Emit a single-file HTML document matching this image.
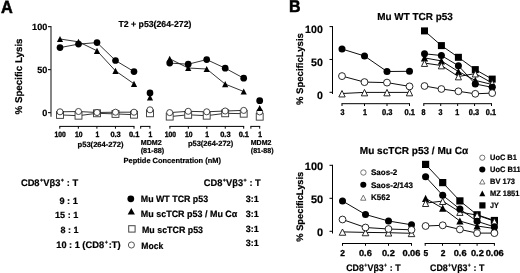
<!DOCTYPE html>
<html lang="en"><head><meta charset="utf-8"><title>Figure</title>
<style>
html,body{margin:0;padding:0;background:#fff;}
body{width:520px;height:273px;overflow:hidden;}
svg{display:block;font-family:"Liberation Sans", Arial, Helvetica, sans-serif;will-change:transform;filter:blur(0.3px);}
text{stroke:#000;stroke-width:0.2px;}
</style></head><body>
<svg width="520" height="273" viewBox="0 0 520 273" shape-rendering="geometricPrecision" text-rendering="geometricPrecision">
<rect width="520" height="273" fill="#fff"/>
<text transform="translate(0.9 12.7) scale(1.02 1.1)" font-size="16" font-weight="bold" style="stroke-width:0.5px">A</text>
<line x1="51.0" y1="25.999999999999993" x2="51.0" y2="116.8" stroke="#666" stroke-width="1.6"/>
<line x1="48.0" y1="26.599999999999994" x2="51.0" y2="26.599999999999994" stroke="#222" stroke-width="1.2"/>
<text x="47.3" y="29.94" font-size="9.1" text-anchor="end" font-weight="bold" fill="#000">100</text>
<line x1="48.0" y1="69.6" x2="51.0" y2="69.6" stroke="#222" stroke-width="1.2"/>
<text x="47.3" y="72.94" font-size="9.1" text-anchor="end" font-weight="bold" fill="#000">50</text>
<line x1="48.0" y1="112.6" x2="51.0" y2="112.6" stroke="#222" stroke-width="1.2"/>
<text x="47.3" y="115.94" font-size="9.1" text-anchor="end" font-weight="bold" fill="#000">0</text>
<text x="18.3" y="79.88" font-size="9.8" text-anchor="middle" textLength="76" lengthAdjust="spacingAndGlyphs" transform="rotate(-90 18.3 76.5)" font-weight="bold" fill="#000">% Specific Lysis</text>
<text x="118.5" y="27.10" font-size="8.7" textLength="72.9" lengthAdjust="spacingAndGlyphs" font-weight="bold" fill="#000">T2 + p53(264-272)</text>
<line x1="59.3" y1="126.4" x2="134.5" y2="126.4" stroke="#000" stroke-width="1"/>
<line x1="59.8" y1="126.4" x2="59.8" y2="128.70000000000002" stroke="#000" stroke-width="1"/>
<text transform="translate(60.199999999999996 136.66) scale(0.88 1)" font-size="7.7" text-anchor="middle" style="stroke-width:0.35px" font-weight="bold" fill="#000">100</text>
<line x1="78.35" y1="126.4" x2="78.35" y2="128.70000000000002" stroke="#000" stroke-width="1"/>
<text transform="translate(78.75 136.66) scale(0.88 1)" font-size="7.7" text-anchor="middle" style="stroke-width:0.35px" font-weight="bold" fill="#000">10</text>
<line x1="96.9" y1="126.4" x2="96.9" y2="128.70000000000002" stroke="#000" stroke-width="1"/>
<text transform="translate(97.30000000000001 136.66) scale(0.88 1)" font-size="7.7" text-anchor="middle" style="stroke-width:0.35px" font-weight="bold" fill="#000">1</text>
<line x1="115.45" y1="126.4" x2="115.45" y2="128.70000000000002" stroke="#000" stroke-width="1"/>
<text transform="translate(115.55000000000001 136.66) scale(0.9680000000000001 1)" font-size="7.7" text-anchor="middle" style="stroke-width:0.35px" font-weight="bold" fill="#000">0.3</text>
<line x1="134.0" y1="126.4" x2="134.0" y2="128.70000000000002" stroke="#000" stroke-width="1"/>
<text transform="translate(134.1 136.66) scale(0.9680000000000001 1)" font-size="7.7" text-anchor="middle" style="stroke-width:0.35px" font-weight="bold" fill="#000">0.1</text>
<line x1="169.4" y1="126.4" x2="244.2" y2="126.4" stroke="#000" stroke-width="1"/>
<line x1="169.9" y1="126.4" x2="169.9" y2="128.70000000000002" stroke="#000" stroke-width="1"/>
<text transform="translate(170.3 136.66) scale(0.88 1)" font-size="7.7" text-anchor="middle" style="stroke-width:0.35px" font-weight="bold" fill="#000">100</text>
<line x1="188.35" y1="126.4" x2="188.35" y2="128.70000000000002" stroke="#000" stroke-width="1"/>
<text transform="translate(188.75 136.66) scale(0.88 1)" font-size="7.7" text-anchor="middle" style="stroke-width:0.35px" font-weight="bold" fill="#000">10</text>
<line x1="206.8" y1="126.4" x2="206.8" y2="128.70000000000002" stroke="#000" stroke-width="1"/>
<text transform="translate(207.20000000000002 136.66) scale(0.88 1)" font-size="7.7" text-anchor="middle" style="stroke-width:0.35px" font-weight="bold" fill="#000">1</text>
<line x1="225.25" y1="126.4" x2="225.25" y2="128.70000000000002" stroke="#000" stroke-width="1"/>
<text transform="translate(225.35 136.66) scale(0.9680000000000001 1)" font-size="7.7" text-anchor="middle" style="stroke-width:0.35px" font-weight="bold" fill="#000">0.3</text>
<line x1="243.7" y1="126.4" x2="243.7" y2="128.70000000000002" stroke="#000" stroke-width="1"/>
<text transform="translate(243.79999999999998 136.66) scale(0.9680000000000001 1)" font-size="7.7" text-anchor="middle" style="stroke-width:0.35px" font-weight="bold" fill="#000">0.1</text>
<line x1="140.2" y1="126.4" x2="150.4" y2="126.4" stroke="#000" stroke-width="1"/>
<line x1="140.7" y1="126.4" x2="140.7" y2="128.70000000000002" stroke="#000" stroke-width="1"/>
<line x1="149.9" y1="126.4" x2="149.9" y2="128.70000000000002" stroke="#000" stroke-width="1"/>
<text transform="translate(150.4 136.66) scale(0.88 1)" font-size="7.7" text-anchor="middle" style="stroke-width:0.35px" font-weight="bold" fill="#000">1</text>
<line x1="250.4" y1="126.4" x2="260.2" y2="126.4" stroke="#000" stroke-width="1"/>
<line x1="250.9" y1="126.4" x2="250.9" y2="128.70000000000002" stroke="#000" stroke-width="1"/>
<line x1="259.7" y1="126.4" x2="259.7" y2="128.70000000000002" stroke="#000" stroke-width="1"/>
<text transform="translate(260.2 136.66) scale(0.88 1)" font-size="7.7" text-anchor="middle" style="stroke-width:0.35px" font-weight="bold" fill="#000">1</text>
<text x="100.55" y="146.59" font-size="7.5" text-anchor="middle" textLength="46.1" lengthAdjust="spacingAndGlyphs" font-weight="bold" fill="#000">p53(264-272)</text>
<text x="210.6" y="145.99" font-size="7.5" text-anchor="middle" textLength="45.4" lengthAdjust="spacingAndGlyphs" font-weight="bold" fill="#000">p53(264-272)</text>
<text x="140.7" y="144.58" font-size="7.2" textLength="21" lengthAdjust="spacingAndGlyphs" font-weight="bold" fill="#000">MDM2</text>
<text x="140.7" y="152.88" font-size="7.2" textLength="23.5" lengthAdjust="spacingAndGlyphs" font-weight="bold" fill="#000">(81-88)</text>
<text x="250.8" y="144.58" font-size="7.2" textLength="20.6" lengthAdjust="spacingAndGlyphs" font-weight="bold" fill="#000">MDM2</text>
<text x="250.8" y="152.88" font-size="7.2" textLength="22.8" lengthAdjust="spacingAndGlyphs" font-weight="bold" fill="#000">(81-88)</text>
<text x="123.6" y="163.37" font-size="7.46" textLength="97.4" lengthAdjust="spacingAndGlyphs" font-weight="bold" fill="#000">Peptide Concentration (nM)</text>
<polyline points="60.00,114.90 78.50,115.70 97.00,113.30 115.50,113.90 134.00,114.70" fill="none" stroke="#000" stroke-width="0.8"/>
<rect x="56.55" y="111.45" width="6.90" height="6.90" fill="#fff" stroke="#333" stroke-width="0.9"/>
<rect x="75.05" y="112.25" width="6.90" height="6.90" fill="#fff" stroke="#333" stroke-width="0.9"/>
<rect x="93.55" y="109.85" width="6.90" height="6.90" fill="#fff" stroke="#333" stroke-width="0.9"/>
<rect x="112.05" y="110.45" width="6.90" height="6.90" fill="#fff" stroke="#333" stroke-width="0.9"/>
<rect x="130.55" y="111.25" width="6.90" height="6.90" fill="#fff" stroke="#333" stroke-width="0.9"/>
<polyline points="60.00,111.80 78.50,111.50 97.00,112.50 115.50,112.20 134.00,112.20" fill="none" stroke="#000" stroke-width="0.8"/>
<circle cx="60.00" cy="111.80" r="3.05" fill="#fff" stroke="#333" stroke-width="0.9"/>
<circle cx="78.50" cy="111.50" r="3.05" fill="#fff" stroke="#333" stroke-width="0.9"/>
<circle cx="97.00" cy="112.50" r="3.05" fill="#fff" stroke="#333" stroke-width="0.9"/>
<circle cx="115.50" cy="112.20" r="3.05" fill="#fff" stroke="#333" stroke-width="0.9"/>
<circle cx="134.00" cy="112.20" r="3.05" fill="#fff" stroke="#333" stroke-width="0.9"/>
<polyline points="60.00,39.00 78.50,41.80 97.00,50.80 115.50,70.90 134.00,83.80" fill="none" stroke="#000" stroke-width="0.8"/>
<polygon points="60.00,35.90 63.10,42.10 56.90,42.10" fill="#000"/>
<polygon points="78.50,38.70 81.60,44.90 75.40,44.90" fill="#000"/>
<polygon points="97.00,47.70 100.10,53.90 93.90,53.90" fill="#000"/>
<polygon points="115.50,67.80 118.60,74.00 112.40,74.00" fill="#000"/>
<polygon points="134.00,80.70 137.10,86.90 130.90,86.90" fill="#000"/>
<polyline points="60.00,47.60 78.50,44.10 97.00,42.60 115.50,60.50 134.00,71.60" fill="none" stroke="#000" stroke-width="0.8"/>
<circle cx="60.00" cy="47.60" r="3.35" fill="#000"/>
<circle cx="78.50" cy="44.10" r="3.35" fill="#000"/>
<circle cx="97.00" cy="42.60" r="3.35" fill="#000"/>
<circle cx="115.50" cy="60.50" r="3.35" fill="#000"/>
<circle cx="134.00" cy="71.60" r="3.35" fill="#000"/>
<rect x="146.55" y="109.85" width="6.90" height="6.90" fill="#fff" stroke="#333" stroke-width="0.9"/>
<circle cx="150.00" cy="109.80" r="3.05" fill="#fff" stroke="#333" stroke-width="0.9"/>
<polygon points="150.00,94.40 153.10,100.60 146.90,100.60" fill="#000"/>
<circle cx="150.00" cy="92.90" r="3.35" fill="#000"/>
<polyline points="169.70,116.60 188.20,114.80 206.70,115.70 225.20,113.30 243.70,113.70" fill="none" stroke="#000" stroke-width="0.8"/>
<rect x="166.25" y="113.15" width="6.90" height="6.90" fill="#fff" stroke="#333" stroke-width="0.9"/>
<rect x="184.75" y="111.35" width="6.90" height="6.90" fill="#fff" stroke="#333" stroke-width="0.9"/>
<rect x="203.25" y="112.25" width="6.90" height="6.90" fill="#fff" stroke="#333" stroke-width="0.9"/>
<rect x="221.75" y="109.85" width="6.90" height="6.90" fill="#fff" stroke="#333" stroke-width="0.9"/>
<rect x="240.25" y="110.25" width="6.90" height="6.90" fill="#fff" stroke="#333" stroke-width="0.9"/>
<polyline points="169.70,112.60 188.20,111.30 206.70,111.80 225.20,111.00 243.70,110.40" fill="none" stroke="#000" stroke-width="0.8"/>
<circle cx="169.70" cy="112.60" r="3.05" fill="#fff" stroke="#333" stroke-width="0.9"/>
<circle cx="188.20" cy="111.30" r="3.05" fill="#fff" stroke="#333" stroke-width="0.9"/>
<circle cx="206.70" cy="111.80" r="3.05" fill="#fff" stroke="#333" stroke-width="0.9"/>
<circle cx="225.20" cy="111.00" r="3.05" fill="#fff" stroke="#333" stroke-width="0.9"/>
<circle cx="243.70" cy="110.40" r="3.05" fill="#fff" stroke="#333" stroke-width="0.9"/>
<polyline points="169.70,58.80 188.20,68.00 206.70,69.00 225.20,84.10 243.70,91.50" fill="none" stroke="#000" stroke-width="0.8"/>
<polygon points="169.70,55.70 172.80,61.90 166.60,61.90" fill="#000"/>
<polygon points="188.20,64.90 191.30,71.10 185.10,71.10" fill="#000"/>
<polygon points="206.70,65.90 209.80,72.10 203.60,72.10" fill="#000"/>
<polygon points="225.20,81.00 228.30,87.20 222.10,87.20" fill="#000"/>
<polygon points="243.70,88.40 246.80,94.60 240.60,94.60" fill="#000"/>
<polyline points="169.70,63.10 188.20,64.20 206.70,59.60 225.20,68.20 243.70,78.20" fill="none" stroke="#000" stroke-width="0.8"/>
<circle cx="169.70" cy="63.10" r="3.35" fill="#000"/>
<circle cx="188.20" cy="64.20" r="3.35" fill="#000"/>
<circle cx="206.70" cy="59.60" r="3.35" fill="#000"/>
<circle cx="225.20" cy="68.20" r="3.35" fill="#000"/>
<circle cx="243.70" cy="78.20" r="3.35" fill="#000"/>
<rect x="256.25" y="113.25" width="6.90" height="6.90" fill="#fff" stroke="#333" stroke-width="0.9"/>
<circle cx="259.70" cy="111.90" r="3.05" fill="#fff" stroke="#333" stroke-width="0.9"/>
<polygon points="259.70,104.90 262.80,111.10 256.60,111.10" fill="#000"/>
<circle cx="259.70" cy="100.70" r="3.4" fill="#000"/>
<text x="20.9" y="186.31" font-size="9.6" textLength="57.3" lengthAdjust="spacingAndGlyphs" font-weight="bold" fill="#000">CD8<tspan dy="-3.84" dx="0.3" font-size="5.57">+</tspan><tspan dy="3.84" dx="0.3">Vβ3</tspan><tspan dy="-3.84" dx="0.3" font-size="5.57">+</tspan><tspan dy="3.84" dx="0.3"> : T</tspan></text>
<text x="77.8" y="203.77" font-size="9.2" text-anchor="end" font-weight="bold" fill="#000">9 : 1</text>
<text x="78.3" y="218.14" font-size="9.1" text-anchor="end" font-weight="bold" fill="#000">15 : 1</text>
<text x="78.4" y="233.10" font-size="9.0" text-anchor="end" font-weight="bold" fill="#000">8 : 1</text>
<text x="56.3" y="247.94" font-size="9.4" textLength="23.5" lengthAdjust="spacingAndGlyphs" font-weight="bold" fill="#000">10 : 1</text>
<text x="82.3" y="247.94" font-size="9.4" textLength="38.3" lengthAdjust="spacingAndGlyphs" font-weight="bold" fill="#000">(CD8<tspan dy="-3.6" dx="0.5" font-size="5.5">+</tspan><tspan dy="3.6" dx="0.8">:T)</tspan></text>
<circle cx="130.80" cy="198.80" r="3.4" fill="#000"/>
<polygon points="131.30,207.96 134.90,214.44 127.70,214.44" fill="#000"/>
<rect x="128.70" y="225.70" width="6.40" height="6.40" fill="#fff" stroke="#444" stroke-width="1.0"/>
<circle cx="131.40" cy="245.00" r="3.05" fill="#fff" stroke="#444" stroke-width="0.9"/>
<text x="140.8" y="201.87" font-size="9.2" textLength="67.3" lengthAdjust="spacingAndGlyphs" font-weight="bold" fill="#000">Mu WT TCR p53</text>
<text x="140.8" y="216.87" font-size="9.2" textLength="96.5" lengthAdjust="spacingAndGlyphs" font-weight="bold" fill="#000">Mu scTCR p53 / Mu Cα</text>
<text x="142" y="232.97" font-size="9.2" textLength="61" lengthAdjust="spacingAndGlyphs" font-weight="bold" fill="#000">Mu scTCR p53</text>
<text x="141.3" y="249.47" font-size="9.2" textLength="22" lengthAdjust="spacingAndGlyphs" font-weight="bold" fill="#000">Mock</text>
<text x="203.8" y="185.51" font-size="9.6" textLength="57" lengthAdjust="spacingAndGlyphs" font-weight="bold" fill="#000">CD8<tspan dy="-3.84" dx="0.3" font-size="5.57">+</tspan><tspan dy="3.84" dx="0.3">Vβ3</tspan><tspan dy="-3.84" dx="0.3" font-size="5.57">+</tspan><tspan dy="3.84" dx="0.3"> : T</tspan></text>
<text x="245.8" y="201.54" font-size="9.1" textLength="13" lengthAdjust="spacingAndGlyphs" font-weight="bold" fill="#000">3:1</text>
<text x="245.8" y="217.14" font-size="9.1" textLength="13" lengthAdjust="spacingAndGlyphs" font-weight="bold" fill="#000">3:1</text>
<text x="245.8" y="231.54" font-size="9.1" textLength="13" lengthAdjust="spacingAndGlyphs" font-weight="bold" fill="#000">3:1</text>
<text x="245.8" y="246.34" font-size="9.1" textLength="13" lengthAdjust="spacingAndGlyphs" font-weight="bold" fill="#000">3:1</text>
<text transform="translate(289 12.4) scale(1.03 1.1)" font-size="15.5" font-weight="bold" style="stroke-width:0.5px">B</text>
<line x1="332.5" y1="26.1" x2="332.5" y2="94" stroke="#000" stroke-width="1"/>
<line x1="329.5" y1="26.599999999999994" x2="332.5" y2="26.599999999999994" stroke="#000" stroke-width="1"/>
<text x="322.8" y="32.86" font-size="10.6" text-anchor="end" font-weight="bold" fill="#000">100</text>
<line x1="329.5" y1="59.449999999999996" x2="332.5" y2="59.449999999999996" stroke="#000" stroke-width="1"/>
<text x="322.8" y="65.71" font-size="10.6" text-anchor="end" font-weight="bold" fill="#000">50</text>
<line x1="329.5" y1="92.3" x2="332.5" y2="92.3" stroke="#000" stroke-width="1"/>
<text x="322.8" y="98.56" font-size="10.6" text-anchor="end" font-weight="bold" fill="#000">0</text>
<text x="300" y="72.38" font-size="9.5" text-anchor="middle" textLength="72" lengthAdjust="spacingAndGlyphs" transform="rotate(-90 300 69.1)" font-weight="bold" fill="#000">% SpecificLysis</text>
<text x="377.2" y="19.82" font-size="10.2" textLength="75.6" lengthAdjust="spacingAndGlyphs" font-weight="bold" fill="#000">Mu WT TCR p53</text>
<line x1="341.5" y1="103.7" x2="410.0" y2="103.7" stroke="#000" stroke-width="1"/>
<line x1="342.0" y1="103.7" x2="342.0" y2="106.0" stroke="#000" stroke-width="1"/>
<text transform="translate(342.6 115.16) scale(0.86 1)" font-size="8.3" text-anchor="middle" style="stroke-width:0.35px" font-weight="bold" fill="#000">3</text>
<line x1="364.5" y1="103.7" x2="364.5" y2="106.0" stroke="#000" stroke-width="1"/>
<text transform="translate(365.1 115.16) scale(0.86 1)" font-size="8.3" text-anchor="middle" style="stroke-width:0.35px" font-weight="bold" fill="#000">1</text>
<line x1="387.0" y1="103.7" x2="387.0" y2="106.0" stroke="#000" stroke-width="1"/>
<text transform="translate(387.3 115.16) scale(0.903 1)" font-size="8.3" text-anchor="middle" style="stroke-width:0.35px" font-weight="bold" fill="#000">0.3</text>
<line x1="409.5" y1="103.7" x2="409.5" y2="106.0" stroke="#000" stroke-width="1"/>
<text transform="translate(409.8 115.16) scale(0.903 1)" font-size="8.3" text-anchor="middle" style="stroke-width:0.35px" font-weight="bold" fill="#000">0.1</text>
<polyline points="342.00,93.50 364.50,92.40 387.00,92.40 409.50,92.40" fill="none" stroke="#000" stroke-width="0.95"/>
<polygon points="342.00,90.50 345.18,96.95 338.82,96.95" fill="#fff" stroke="#111" stroke-width="0.9"/>
<polygon points="364.50,89.40 367.68,95.85 361.32,95.85" fill="#fff" stroke="#111" stroke-width="0.9"/>
<polygon points="387.00,89.40 390.18,95.85 383.82,95.85" fill="#fff" stroke="#111" stroke-width="0.9"/>
<polygon points="409.50,89.40 412.68,95.85 406.32,95.85" fill="#fff" stroke="#111" stroke-width="0.9"/>
<polyline points="342.00,49.00 364.50,56.00 387.00,71.50 409.50,71.30" fill="none" stroke="#000" stroke-width="0.95"/>
<circle cx="342.00" cy="49.00" r="3.5" fill="#000"/>
<circle cx="364.50" cy="56.00" r="3.5" fill="#000"/>
<circle cx="387.00" cy="71.50" r="3.5" fill="#000"/>
<circle cx="409.50" cy="71.30" r="3.5" fill="#000"/>
<polyline points="342.00,76.10 364.50,82.10 387.00,82.60 409.50,86.40" fill="none" stroke="#000" stroke-width="0.95"/>
<circle cx="342.00" cy="76.10" r="3.45" fill="#fff" stroke="#111" stroke-width="0.9"/>
<circle cx="364.50" cy="82.10" r="3.45" fill="#fff" stroke="#111" stroke-width="0.9"/>
<circle cx="387.00" cy="82.60" r="3.45" fill="#fff" stroke="#111" stroke-width="0.9"/>
<circle cx="409.50" cy="86.40" r="3.45" fill="#fff" stroke="#111" stroke-width="0.9"/>
<line x1="423.3" y1="103.7" x2="492.0" y2="103.7" stroke="#000" stroke-width="1"/>
<line x1="423.8" y1="103.7" x2="423.8" y2="106.0" stroke="#000" stroke-width="1"/>
<text transform="translate(423.5 115.16) scale(0.86 1)" font-size="8.3" text-anchor="middle" style="stroke-width:0.35px" font-weight="bold" fill="#000">8</text>
<line x1="440.725" y1="103.7" x2="440.725" y2="106.0" stroke="#000" stroke-width="1"/>
<text transform="translate(440.425 115.16) scale(0.86 1)" font-size="8.3" text-anchor="middle" style="stroke-width:0.35px" font-weight="bold" fill="#000">3</text>
<line x1="457.65" y1="103.7" x2="457.65" y2="106.0" stroke="#000" stroke-width="1"/>
<text transform="translate(457.34999999999997 115.16) scale(0.86 1)" font-size="8.3" text-anchor="middle" style="stroke-width:0.35px" font-weight="bold" fill="#000">1</text>
<line x1="474.575" y1="103.7" x2="474.575" y2="106.0" stroke="#000" stroke-width="1"/>
<text transform="translate(473.97499999999997 115.16) scale(0.8858 1)" font-size="8.3" text-anchor="middle" style="stroke-width:0.35px" font-weight="bold" fill="#000">0.3</text>
<line x1="491.5" y1="103.7" x2="491.5" y2="106.0" stroke="#000" stroke-width="1"/>
<text transform="translate(490.9 115.16) scale(0.8858 1)" font-size="8.3" text-anchor="middle" style="stroke-width:0.35px" font-weight="bold" fill="#000">0.1</text>
<polyline points="424.50,30.90 441.40,45.60 458.40,57.30 475.30,69.60 492.20,79.10" fill="none" stroke="#000" stroke-width="0.95"/>
<rect x="421.00" y="27.40" width="7.0" height="7.0" fill="#000"/>
<rect x="437.90" y="42.10" width="7.0" height="7.0" fill="#000"/>
<rect x="454.90" y="53.80" width="7.0" height="7.0" fill="#000"/>
<rect x="471.80" y="66.10" width="7.0" height="7.0" fill="#000"/>
<rect x="488.70" y="75.60" width="7.0" height="7.0" fill="#000"/>
<polyline points="424.50,57.90 441.40,60.90 458.40,71.50 475.30,80.40 492.20,84.50" fill="none" stroke="#000" stroke-width="0.95"/>
<polygon points="424.50,54.30 428.10,61.50 420.90,61.50" fill="#000"/>
<polygon points="441.40,57.30 445.00,64.50 437.80,64.50" fill="#000"/>
<polygon points="458.40,67.90 462.00,75.10 454.80,75.10" fill="#000"/>
<polygon points="475.30,76.80 478.90,84.00 471.70,84.00" fill="#000"/>
<polygon points="492.20,80.90 495.80,88.10 488.60,88.10" fill="#000"/>
<polyline points="424.50,63.10 441.40,65.50 458.40,76.50 475.30,73.60 492.20,83.00" fill="none" stroke="#000" stroke-width="0.95"/>
<polygon points="424.50,60.20 427.58,66.45 421.42,66.45" fill="#fff" stroke="#111" stroke-width="0.9"/>
<polygon points="441.40,62.60 444.48,68.85 438.32,68.85" fill="#fff" stroke="#111" stroke-width="0.9"/>
<polygon points="458.40,73.60 461.48,79.85 455.32,79.85" fill="#fff" stroke="#111" stroke-width="0.9"/>
<polygon points="475.30,70.70 478.38,76.95 472.22,76.95" fill="#fff" stroke="#111" stroke-width="0.9"/>
<polygon points="492.20,80.10 495.28,86.35 489.12,86.35" fill="#fff" stroke="#111" stroke-width="0.9"/>
<polyline points="424.50,53.80 441.40,55.50 458.40,65.70 475.30,84.00 492.20,87.30" fill="none" stroke="#000" stroke-width="0.95"/>
<circle cx="424.50" cy="53.80" r="3.5" fill="#000"/>
<circle cx="441.40" cy="55.50" r="3.5" fill="#000"/>
<circle cx="458.40" cy="65.70" r="3.5" fill="#000"/>
<circle cx="475.30" cy="84.00" r="3.5" fill="#000"/>
<circle cx="492.20" cy="87.30" r="3.5" fill="#000"/>
<polyline points="424.50,86.00 441.40,89.00 458.40,91.30 475.30,93.80 492.20,93.10" fill="none" stroke="#000" stroke-width="0.95"/>
<circle cx="424.50" cy="86.00" r="3.40" fill="#fff" stroke="#111" stroke-width="0.9"/>
<circle cx="441.40" cy="89.00" r="3.40" fill="#fff" stroke="#111" stroke-width="0.9"/>
<circle cx="458.40" cy="91.30" r="3.40" fill="#fff" stroke="#111" stroke-width="0.9"/>
<circle cx="475.30" cy="93.80" r="3.40" fill="#fff" stroke="#111" stroke-width="0.9"/>
<circle cx="492.20" cy="93.10" r="3.40" fill="#fff" stroke="#111" stroke-width="0.9"/>
<line x1="332.5" y1="164.8" x2="332.5" y2="233.5" stroke="#000" stroke-width="1"/>
<line x1="329.5" y1="165.3" x2="332.5" y2="165.3" stroke="#000" stroke-width="1"/>
<text x="323" y="169.66" font-size="10.9" text-anchor="end" font-weight="bold" fill="#000">100</text>
<line x1="329.5" y1="198.3" x2="332.5" y2="198.3" stroke="#000" stroke-width="1"/>
<text x="323" y="202.66" font-size="10.9" text-anchor="end" font-weight="bold" fill="#000">50</text>
<line x1="329.5" y1="231.3" x2="332.5" y2="231.3" stroke="#000" stroke-width="1"/>
<text x="323" y="235.66" font-size="10.9" text-anchor="end" font-weight="bold" fill="#000">0</text>
<text x="299.6" y="209.94" font-size="9.4" text-anchor="middle" textLength="70" lengthAdjust="spacingAndGlyphs" transform="rotate(-90 299.6 206.7)" font-weight="bold" fill="#000">% SpecificLysis</text>
<text x="414" y="153.52" font-size="10.2" text-anchor="middle" textLength="108.5" lengthAdjust="spacingAndGlyphs" font-weight="bold" fill="#000">Mu scTCR p53 / Mu Cα</text>
<line x1="342.0" y1="243.5" x2="412.0" y2="243.5" stroke="#000" stroke-width="1"/>
<line x1="342.5" y1="243.5" x2="342.5" y2="245.8" stroke="#000" stroke-width="1"/>
<text transform="translate(342.7 256.07) scale(0.98 1)" font-size="8.6" text-anchor="middle" style="stroke-width:0.3px" font-weight="bold" fill="#000">2</text>
<line x1="365.5" y1="243.5" x2="365.5" y2="245.8" stroke="#000" stroke-width="1"/>
<text transform="translate(365.4 256.07) scale(1.078 1)" font-size="8.6" text-anchor="middle" style="stroke-width:0.3px" font-weight="bold" fill="#000">0.6</text>
<line x1="388.5" y1="243.5" x2="388.5" y2="245.8" stroke="#000" stroke-width="1"/>
<text transform="translate(388.4 256.07) scale(1.078 1)" font-size="8.6" text-anchor="middle" style="stroke-width:0.3px" font-weight="bold" fill="#000">0.2</text>
<line x1="411.5" y1="243.5" x2="411.5" y2="245.8" stroke="#000" stroke-width="1"/>
<text transform="translate(411.4 256.07) scale(1.078 1)" font-size="8.6" text-anchor="middle" style="stroke-width:0.3px" font-weight="bold" fill="#000">0.06</text>
<line x1="424.7" y1="243.5" x2="494.9" y2="243.5" stroke="#000" stroke-width="1"/>
<line x1="425.2" y1="243.5" x2="425.2" y2="245.8" stroke="#000" stroke-width="1"/>
<text transform="translate(425.8 256.07) scale(0.98 1)" font-size="8.6" text-anchor="middle" style="stroke-width:0.3px" font-weight="bold" fill="#000">5</text>
<line x1="442.5" y1="243.5" x2="442.5" y2="245.8" stroke="#000" stroke-width="1"/>
<text transform="translate(443.1 256.07) scale(0.98 1)" font-size="8.6" text-anchor="middle" style="stroke-width:0.3px" font-weight="bold" fill="#000">2</text>
<line x1="459.79999999999995" y1="243.5" x2="459.79999999999995" y2="245.8" stroke="#000" stroke-width="1"/>
<text transform="translate(460.09999999999997 256.07) scale(1.078 1)" font-size="8.6" text-anchor="middle" style="stroke-width:0.3px" font-weight="bold" fill="#000">0.6</text>
<line x1="477.09999999999997" y1="243.5" x2="477.09999999999997" y2="245.8" stroke="#000" stroke-width="1"/>
<text transform="translate(477.4 256.07) scale(1.078 1)" font-size="8.6" text-anchor="middle" style="stroke-width:0.3px" font-weight="bold" fill="#000">0.2</text>
<line x1="494.4" y1="243.5" x2="494.4" y2="245.8" stroke="#000" stroke-width="1"/>
<text transform="translate(494.7 256.07) scale(1.078 1)" font-size="8.6" text-anchor="middle" style="stroke-width:0.3px" font-weight="bold" fill="#000">0.06</text>
<text x="346.2" y="270.64" font-size="9.4" textLength="54.4" lengthAdjust="spacingAndGlyphs" font-weight="bold" fill="#000">CD8<tspan dy="-3.76" dx="0.3" font-size="5.45">+</tspan><tspan dy="3.76" dx="0.3">Vβ3</tspan><tspan dy="-3.76" dx="0.3" font-size="5.45">+</tspan><tspan dy="3.76" dx="0.3"> : T</tspan></text>
<text x="430" y="270.64" font-size="9.4" textLength="54.4" lengthAdjust="spacingAndGlyphs" font-weight="bold" fill="#000">CD8<tspan dy="-3.76" dx="0.3" font-size="5.45">+</tspan><tspan dy="3.76" dx="0.3">Vβ3</tspan><tspan dy="-3.76" dx="0.3" font-size="5.45">+</tspan><tspan dy="3.76" dx="0.3"> : T</tspan></text>
<polyline points="342.50,231.90 365.50,232.40 388.50,232.70 411.50,233.30" fill="none" stroke="#000" stroke-width="0.95"/>
<polygon points="342.50,229.00 345.78,235.25 339.22,235.25" fill="#fff" stroke="#111" stroke-width="0.9"/>
<polygon points="365.50,229.50 368.78,235.75 362.22,235.75" fill="#fff" stroke="#111" stroke-width="0.9"/>
<polygon points="388.50,229.80 391.78,236.05 385.22,236.05" fill="#fff" stroke="#111" stroke-width="0.9"/>
<polygon points="411.50,230.40 414.78,236.65 408.22,236.65" fill="#fff" stroke="#111" stroke-width="0.9"/>
<polyline points="342.50,201.00 365.50,214.50 388.50,221.00 411.50,224.80" fill="none" stroke="#000" stroke-width="0.95"/>
<circle cx="342.50" cy="201.00" r="3.5" fill="#000"/>
<circle cx="365.50" cy="214.50" r="3.5" fill="#000"/>
<circle cx="388.50" cy="221.00" r="3.5" fill="#000"/>
<circle cx="411.50" cy="224.80" r="3.5" fill="#000"/>
<polyline points="342.50,219.50 365.50,227.50 388.50,229.00 411.50,229.80" fill="none" stroke="#000" stroke-width="0.95"/>
<circle cx="342.50" cy="219.50" r="3.40" fill="#fff" stroke="#111" stroke-width="0.9"/>
<circle cx="365.50" cy="227.50" r="3.40" fill="#fff" stroke="#111" stroke-width="0.9"/>
<circle cx="388.50" cy="229.00" r="3.40" fill="#fff" stroke="#111" stroke-width="0.9"/>
<circle cx="411.50" cy="229.80" r="3.40" fill="#fff" stroke="#111" stroke-width="0.9"/>
<polyline points="425.60,164.40 442.70,182.60 459.90,200.90 477.10,214.80 494.40,220.50" fill="none" stroke="#000" stroke-width="0.95"/>
<rect x="422.00" y="160.80" width="7.2" height="7.2" fill="#000"/>
<rect x="439.10" y="179.00" width="7.2" height="7.2" fill="#000"/>
<rect x="456.30" y="197.30" width="7.2" height="7.2" fill="#000"/>
<rect x="473.50" y="211.20" width="7.2" height="7.2" fill="#000"/>
<rect x="490.80" y="216.90" width="7.2" height="7.2" fill="#000"/>
<polyline points="425.60,198.40 442.70,208.20 459.90,221.00 477.10,226.00 494.40,228.50" fill="none" stroke="#000" stroke-width="0.95"/>
<polygon points="425.60,194.80 429.20,202.00 422.00,202.00" fill="#000"/>
<polygon points="442.70,204.60 446.30,211.80 439.10,211.80" fill="#000"/>
<polygon points="459.90,217.40 463.50,224.60 456.30,224.60" fill="#000"/>
<polygon points="477.10,222.40 480.70,229.60 473.50,229.60" fill="#000"/>
<polygon points="494.40,224.90 498.00,232.10 490.80,232.10" fill="#000"/>
<polyline points="425.60,203.10 442.70,201.10 459.90,212.00 477.10,215.20 494.40,221.20" fill="none" stroke="#000" stroke-width="0.95"/>
<polygon points="425.60,200.15 428.73,206.50 422.47,206.50" fill="#fff" stroke="#111" stroke-width="0.9"/>
<polygon points="442.70,198.15 445.83,204.50 439.57,204.50" fill="#fff" stroke="#111" stroke-width="0.9"/>
<polygon points="459.90,209.05 463.03,215.40 456.77,215.40" fill="#fff" stroke="#111" stroke-width="0.9"/>
<polygon points="477.10,212.25 480.23,218.60 473.97,218.60" fill="#fff" stroke="#111" stroke-width="0.9"/>
<polygon points="494.40,218.25 497.53,224.60 491.27,224.60" fill="#fff" stroke="#111" stroke-width="0.9"/>
<polyline points="425.60,176.80 442.70,195.30 459.90,209.10 477.10,221.30 494.40,226.90" fill="none" stroke="#000" stroke-width="0.95"/>
<circle cx="425.60" cy="176.80" r="3.55" fill="#000"/>
<circle cx="442.70" cy="195.30" r="3.55" fill="#000"/>
<circle cx="459.90" cy="209.10" r="3.55" fill="#000"/>
<circle cx="477.10" cy="221.30" r="3.55" fill="#000"/>
<circle cx="494.40" cy="226.90" r="3.55" fill="#000"/>
<polyline points="425.60,226.00 442.70,225.30 459.90,229.40 477.10,233.10 494.40,233.10" fill="none" stroke="#000" stroke-width="0.95"/>
<circle cx="425.60" cy="226.00" r="3.45" fill="#fff" stroke="#111" stroke-width="0.9"/>
<circle cx="442.70" cy="225.30" r="3.45" fill="#fff" stroke="#111" stroke-width="0.9"/>
<circle cx="459.90" cy="229.40" r="3.45" fill="#fff" stroke="#111" stroke-width="0.9"/>
<circle cx="477.10" cy="233.10" r="3.45" fill="#fff" stroke="#111" stroke-width="0.9"/>
<circle cx="494.40" cy="233.10" r="3.45" fill="#fff" stroke="#111" stroke-width="0.9"/>
<circle cx="363.40" cy="172.50" r="2.70" fill="#fff" stroke="#555" stroke-width="0.8"/>
<text x="370.9" y="175.39" font-size="8.1" textLength="26.4" lengthAdjust="spacingAndGlyphs" font-weight="bold" fill="#000">Saos-2</text>
<circle cx="363.30" cy="184.80" r="3.05" fill="#000"/>
<text x="370.9" y="187.79" font-size="8.1" textLength="42.2" lengthAdjust="spacingAndGlyphs" font-weight="bold" fill="#000">Saos-2/143</text>
<polygon points="363.30,195.17 365.96,200.23 360.64,200.23" fill="#fff" stroke="#555" stroke-width="0.8"/>
<text x="371.1" y="200.49" font-size="8.1" textLength="19" lengthAdjust="spacingAndGlyphs" font-weight="bold" fill="#000">K562</text>
<circle cx="482.30" cy="157.70" r="2.60" fill="#fff" stroke="#555" stroke-width="0.8"/>
<text x="490" y="160.09" font-size="7.8" textLength="26.9" lengthAdjust="spacingAndGlyphs" font-weight="bold" fill="#000">UoC B1</text>
<circle cx="482.30" cy="169.50" r="3.05" fill="#000"/>
<text x="490" y="172.29" font-size="7.8" textLength="30.8" lengthAdjust="spacingAndGlyphs" font-weight="bold" fill="#000">UoC B11</text>
<polygon points="482.30,179.23 484.96,183.97 479.64,183.97" fill="#fff" stroke="#555" stroke-width="0.8"/>
<text x="490" y="184.29" font-size="7.8" textLength="25" lengthAdjust="spacingAndGlyphs" font-weight="bold" fill="#000">BV 173</text>
<polygon points="482.30,190.55 485.30,196.25 479.30,196.25" fill="#000"/>
<text x="490" y="196.29" font-size="7.8" textLength="29.4" lengthAdjust="spacingAndGlyphs" font-weight="bold" fill="#000">MZ 1851</text>
<rect x="479.30" y="202.30" width="6.2" height="6.2" fill="#000"/>
<text x="490" y="208.29" font-size="7.8" textLength="8.8" lengthAdjust="spacingAndGlyphs" font-weight="bold" fill="#000">JY</text>
</svg>
</body></html>
